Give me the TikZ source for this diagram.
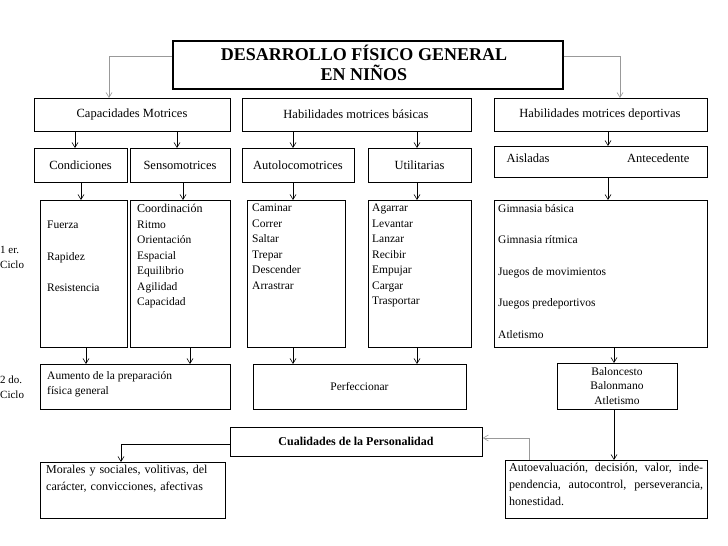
\documentclass[tikz,border=0pt]{standalone}
\usepackage{fontspec}
\setmainfont{Liberation Serif}
\usetikzlibrary{arrows.meta}
\begin{document}
\begin{tikzpicture}[x=1pt,y=-1pt,
  bx/.style={draw,line width=0.8pt,anchor=north west,inner sep=0pt},
  tx/.style={font=\fontsize{11.5}{15.5}\selectfont,align=left,anchor=north west,inner sep=0pt},
  lb/.style={font=\fontsize{12.5}{14}\selectfont},
  ar/.style={->,>={Straight Barb[length=5pt,width=6pt]},line width=0.6pt},
  gar/.style={ar,draw=gray!80}]
\useasboundingbox (0,0) rectangle (728,546);
\newcommand{\bbox}[5]{\node[bx,minimum width=#4-#2,minimum height=#5-#3] (#1) at (#2,#3) {};}
% title
\node[bx,line width=1.6pt,minimum width=390,minimum height=48] (title) at (172,40) {};
\node[font=\fontsize{18}{20}\selectfont\bfseries,align=center] (tt) at (364,63) {DESARROLLO FÍSICO GENERAL\\EN NIÑOS};
% row1
\bbox{cap}{34}{98}{230}{131}
\bbox{hmb}{242}{98}{471}{131}
\bbox{hmd}{494}{98}{707}{131}
\node[lb] (capt) at (132,114.5) {Capacidades Motrices};
\node[lb] (hmbt) at (356,114.5) {Habilidades motrices básicas};
\node[lb] (hmdt) at (600,114.5) {Habilidades motrices deportivas};
% row2
\bbox{con}{34}{148}{127}{182}
\bbox{sen}{130}{148}{230}{182}
\bbox{aut}{242}{148}{354}{182}
\bbox{uti}{368}{148}{471}{182}
\bbox{ais}{494}{146}{707}{177}
\node[lb] (cont) at (80.5,165) {Condiciones};
\node[lb] (sent) at (180,165) {Sensomotrices};
\node[lb] (autt) at (298,165) {Autolocomotrices};
\node[lb] (utit) at (419.5,165) {Utilitarias};
\node[lb,anchor=west] (aist) at (503,158) {Aisladas};
\node[lb,anchor=east] (antt) at (693,158) {Antecedente};
% row3
\bbox{fue}{40}{200}{127}{347}
\bbox{coo}{130}{200}{230}{347}
\bbox{cam}{247}{200}{345}{347}
\bbox{aga}{368}{200}{471}{347}
\bbox{gim}{494}{200}{707}{347}
\node[tx,font=\fontsize{11.5}{31.5}\selectfont] (fuet) at (47,221) {Fuerza\\Rapidez\\Resistencia};
\node[tx] (coot) at (137,204) {{\fontsize{12}{12}\selectfont Coordinación}\\Ritmo\\Orientación\\Espacial\\Equilibrio\\Agilidad\\Capacidad};
\node[tx] (camt) at (252,204) {Caminar\\Correr\\Saltar\\Trepar\\Descender\\Arrastrar};
\node[tx] (agat) at (372,204) {Agarrar\\Levantar\\Lanzar\\Recibir\\Empujar\\Cargar\\Trasportar};
\node[tx,font=\fontsize{11.5}{31.5}\selectfont] (gimt) at (498,204) {Gimnasia básica\\Gimnasia rítmica\\Juegos de movimientos\\Juegos predeportivos\\Atletismo};
\node[font=\fontsize{11}{15}\selectfont,align=left,anchor=west,inner sep=0pt] (c1) at (0,257) {1 er.\\Ciclo};
\node[font=\fontsize{11}{15}\selectfont,align=left,anchor=west,inner sep=0pt] (c2) at (0,387) {2 do.\\Ciclo};
% row4
\bbox{aum}{40}{364}{230}{409}
\bbox{per}{253}{364}{466}{409}
\bbox{bal}{557}{363}{677}{409}
\node[tx] (aumt) at (47,371) {Aumento de la preparación\\física general};
\node[font=\fontsize{11.5}{12}\selectfont] (pert) at (359.5,386.5) {Perfeccionar};
\node[font=\fontsize{11.5}{14.5}\selectfont,align=center] (balt) at (617,386) {Baloncesto\\Balonmano\\Atletismo};
% bottom
\bbox{cua}{230}{427}{482}{456}
\node[font=\fontsize{12}{12}\selectfont\bfseries] (cuat) at (356,441.5) {Cualidades de la Personalidad};
\bbox{mor}{40}{462}{225}{518}
\bbox{aue}{505}{460}{707}{518}
\node[tx,font=\fontsize{12}{17}\selectfont,text width=178] (mort) at (46,465) {Morales y sociales, volitivas, del carácter, convicciones, afectivas};
\node[tx,font=\fontsize{12}{17}\selectfont,text width=194,align=justify] (auet) at (509,463) {Autoevaluación, decisión, valor, independencia, autocontrol, perseverancia, honestidad.};
% arrows title
\draw[gar] (title.west |- 0,56) -| (cap.north -| 109,0);
\draw[gar] (title.east |- 0,56) -| (hmd.north -| 620,0);
% row1 -> row2
\draw[ar] (cap.south -| 75,0) -- (con.north -| 75,0);
\draw[ar] (cap.south -| 177,0) -- (sen.north -| 177,0);
\draw[ar] (hmb.south -| 293,0) -- (aut.north -| 293,0);
\draw[ar] (hmb.south -| 417,0) -- (uti.north -| 417,0);
\draw[ar] (hmd.south -| 608,0) -- (ais.north -| 608,0);
% row2 -> row3
\draw[ar] (con.south -| 81,0) -- (fue.north -| 81,0);
\draw[ar] (sen.south -| 183,0) -- (coo.north -| 183,0);
\draw[ar] (aut.south -| 293,0) -- (cam.north -| 293,0);
\draw[ar] (uti.south -| 417,0) -- (aga.north -| 417,0);
\draw[ar] (ais.south -| 608,0) -- (gim.north -| 608,0);
% row3 -> row4
\draw[ar] (fue.south -| 86,0) -- (aum.north -| 86,0);
\draw[ar] (coo.south -| 190,0) -- (aum.north -| 190,0);
\draw[ar] (cam.south -| 293,0) -- (per.north -| 293,0);
\draw[ar] (aga.south -| 417,0) -- (per.north -| 417,0);
\draw[ar] (gim.south -| 614,0) -- (bal.north -| 614,0);
% bottom
\draw[ar] (bal.south -| 614,0) -- (aue.north -| 614,0);
\draw[ar] (cua.west |- 0,444) -| (mor.north -| 121,0);
\draw[gar] (aue.north -| 529,0) |- (cua.east |- 0,438);
\end{tikzpicture}
\end{document}
